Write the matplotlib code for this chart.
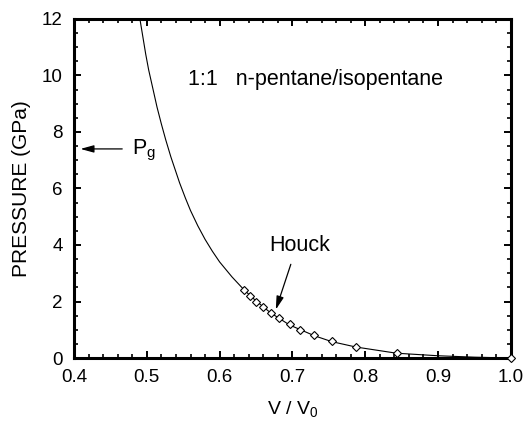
import matplotlib.pyplot as plt
from matplotlib.ticker import MultipleLocator

plt.rcParams['font.family'] = ['Liberation Sans', 'DejaVu Sans']

# Houck data points (V/V0, pressure in GPa)
houck_v = [0.634, 0.642, 0.650, 0.660, 0.670, 0.681, 0.696, 0.711, 0.730, 0.754, 0.787, 0.843, 1.000]
houck_p = [2.4, 2.2, 2.0, 1.8, 1.6, 1.4, 1.2, 1.0, 0.8, 0.6, 0.4, 0.17, 0.0]

# fitted curve
fit_v = [0.4905, 0.4985, 0.5025, 0.508, 0.514, 0.520, 0.526, 0.533, 0.545, 0.553, 0.560,
         0.570, 0.580, 0.590, 0.600, 0.617, 0.634, 0.650, 0.670, 0.696, 0.730, 0.754,
         0.787, 0.843, 0.900, 0.950, 1.000]
fit_p = [12.0, 10.75, 10.2, 9.57, 8.88, 8.28, 7.72, 7.12, 6.2, 5.66, 5.22,
         4.68, 4.2, 3.78, 3.4, 2.87, 2.4, 2.02, 1.6, 1.17, 0.79, 0.58,
         0.39, 0.17, 0.08, 0.03, 0.0]

p_glass = 7.4

fig = plt.figure(figsize=(5.25, 4.21), dpi=100)
ax = fig.add_axes([0.141, 0.1496, 0.832, 0.8054])

ax.plot(fit_v, fit_p, color='k', lw=0.8)
ax.plot(houck_v, houck_p, linestyle='none', marker='D', markersize=4.5,
        markerfacecolor='white', markeredgecolor='k', markeredgewidth=0.8,
        clip_on=False, zorder=5)

ax.set_xlim(0.4, 1.0)
ax.set_ylim(0, 12)
ax.xaxis.set_minor_locator(MultipleLocator(0.02))
ax.yaxis.set_major_locator(MultipleLocator(2))
ax.yaxis.set_minor_locator(MultipleLocator(0.5))
ax.set_xticks([0.4, 0.5, 0.6, 0.7, 0.8, 0.9, 1.0])
ax.set_xticklabels(['0.4', '0.5', '0.6', '0.7', '0.8', '0.9', '1.0'])

ax.tick_params(which='both', direction='in', top=True, right=True, labelsize=13.5)
ax.tick_params(which='major', length=5, width=1.4, pad=8)
ax.tick_params(which='minor', length=3, width=1.2)
for s in ax.spines.values():
    s.set_linewidth(2.2)

ax.set_xlabel('V / V$_\\mathregular{0}$', fontsize=14, labelpad=10)
ax.set_ylabel('PRESSURE (GPa)', fontsize=15, labelpad=8)

ax.text(0.5566, 9.84, '1:1   n-pentane/isopentane', fontsize=15.5, va='center', ha='left')

arrow_style = dict(arrowstyle='-|>,head_length=0.8,head_width=0.22', color='k', lw=0.9)

# glass transition pressure marker
ax.annotate('', xy=(0.405, p_glass), xytext=(0.470, p_glass), arrowprops=arrow_style)
ax.text(0.480, 7.36, 'P$_\\mathregular{g}$', fontsize=15.5, va='center', ha='left')

ax.annotate('', xy=(0.676, 1.62), xytext=(0.699, 3.41), arrowprops=arrow_style)
ax.text(0.668, 3.98, 'Houck', fontsize=15.5, va='center', ha='left')

fig.savefig('out.png', dpi=100)
